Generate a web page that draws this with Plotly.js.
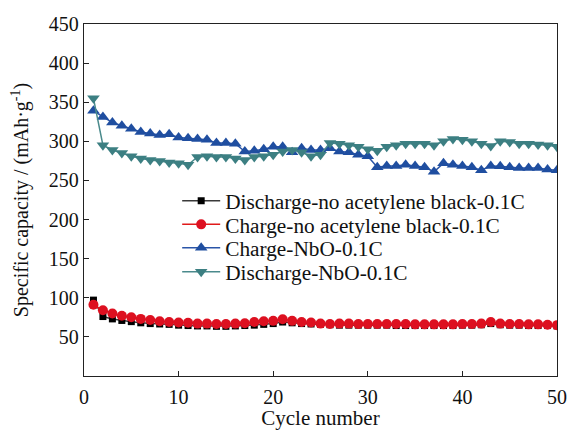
<!DOCTYPE html>
<html>
<head>
<meta charset="utf-8">
<script src="https://cdn.plot.ly/plotly-3.0.1.min.js"></script>
<style>html,body{margin:0;padding:0;background:#fff;}#chart{width:570px;height:430px;}</style>
</head>
<body>
<div id="chart"></div>
<script>
var cycles = [];
for (var i = 1; i <= 50; i++) cycles.push(i);

var dischargeNoAB = [97, 76, 73, 71, 69.5, 68, 67, 66.5, 66, 65, 64.5, 64, 64, 63.5, 63.5, 64, 64.5, 65, 66, 67, 69, 68, 67, 66.5, 66, 65.5, 65, 65, 65, 65, 65, 65, 64.5, 64.5, 64.5, 64.5, 64.5, 64.5, 64.5, 65, 65, 65.5, 67, 65.5, 65, 65, 64.5, 64.5, 64.5, 64];
var chargeNoAB = [91, 84, 80, 77, 75, 73, 71.5, 70, 69, 68.5, 68, 67, 67, 66.5, 66.5, 67, 67.5, 69, 70, 70.5, 72.5, 70.5, 69, 68.5, 67, 66.5, 67, 67, 66.5, 66.5, 66.5, 66.5, 66.5, 66.5, 66, 66, 66, 66, 66, 66.5, 66.5, 67, 69, 67, 66.5, 66.5, 66, 66, 65.5, 65];
var chargeNbO = [339, 331, 324, 320, 316, 312, 310, 308, 309, 305, 304, 303, 302, 298, 298, 297, 287, 288, 290, 293, 293, 286, 291, 289, 289, 291, 287, 286, 283, 281, 267, 268.5, 268.5, 270, 268.5, 267, 261, 272, 270, 268.5, 267, 263, 268.5, 268, 267, 266, 266, 266, 264, 263];
var dischargeNbO = [355, 295, 289, 285, 281, 278, 276, 275, 273, 272, 270, 280, 281, 280, 280, 278, 276, 280, 281, 283, 287, 289, 286, 281, 283, 298, 297, 295, 293, 290, 288, 293, 295, 297, 297, 297, 295, 300, 303, 302, 300, 297, 294, 300, 299, 297, 297, 296, 295, 293];

var seriesNames = ["Discharge-no acetylene black-0.1C", "Charge-no acetylene black-0.1C", "Charge-NbO-0.1C", "Discharge-NbO-0.1C"];
var xTicks = [0, 10, 20, 30, 40, 50];
var yTicks = [50, 100, 150, 200, 250, 300, 350, 400, 450];

var FAM = "Liberation Serif, Times New Roman, serif";
var legendNames = ["legend", "legend2", "legend3", "legend4"];

var traces = [
  {x: cycles, y: dischargeNoAB, name: seriesNames[0], mode: "lines+markers", legend: legendNames[0],
   line: {color: "#3a3a3a", width: 1.5}, marker: {symbol: "square", size: 7, color: "#000"}},
  {x: cycles, y: chargeNoAB, name: seriesNames[1], mode: "lines+markers", legend: legendNames[1],
   line: {color: "#e01a1a", width: 1.5}, marker: {symbol: "circle", size: 10, color: "#dd1020"}},
  {x: cycles, y: chargeNbO, name: seriesNames[2], mode: "lines+markers", legend: legendNames[2],
   line: {color: "#2a55a8", width: 1.5}, marker: {symbol: "triangle-up", size: 11, color: "#1f4ea0"}},
  {x: cycles, y: dischargeNbO, name: seriesNames[3], mode: "lines+markers", legend: legendNames[3],
   line: {color: "#4a8a8c", width: 1.5}, marker: {symbol: "triangle-down", size: 11, color: "#3c7f82"}}
];

var plotTop = 24, plotBottom = 376;
var rowY = [201, 224.5, 248, 272];
function legendAt(py) {
  return {x: 0.197, y: (plotBottom - py) / (plotBottom - plotTop), xanchor: "left", yanchor: "middle",
          bgcolor: "rgba(0,0,0,0)", itemwidth: 38,
          font: {family: FAM, size: 21.3, color: "#111"}};
}

var layout = {
  width: 570, height: 430,
  margin: {l: 84, r: 13, t: 24, b: 54},
  paper_bgcolor: "#fff", plot_bgcolor: "#fff",
  font: {family: FAM, size: 20, color: "#111"},
  showlegend: true,
  legend: legendAt(rowY[0]),
  legend2: legendAt(rowY[1]),
  legend3: legendAt(rowY[2]),
  legend4: legendAt(rowY[3]),
  xaxis: {range: [0, 50], tickvals: xTicks, ticktext: xTicks.map(String),
          ticks: "inside", ticklen: 5, tickcolor: "#222", showline: true, linecolor: "#222", linewidth: 1.2,
          mirror: true, showgrid: false, zeroline: false, tickfont: {family: FAM, size: 20, color: "#111"},
          ticklabelstandoff: 3,
          title: {text: "Cycle number", font: {family: FAM, size: 21, color: "#111"}, standoff: 4}},
  yaxis: {range: [0, 450], tickvals: yTicks, ticktext: yTicks.map(String),
          ticks: "inside", ticklen: 5, tickcolor: "#222", showline: true, linecolor: "#222", linewidth: 1.2,
          mirror: true, showgrid: false, zeroline: false, tickfont: {family: FAM, size: 20, color: "#111"},
          title: {text: "Specific capacity / (mAh·g<sup>-1</sup>)", font: {family: FAM, size: 20, color: "#111"}, standoff: 14}}
};

Plotly.newPlot("chart", traces, layout, {displayModeBar: false, staticPlot: true});
</script>
</body>
</html>
